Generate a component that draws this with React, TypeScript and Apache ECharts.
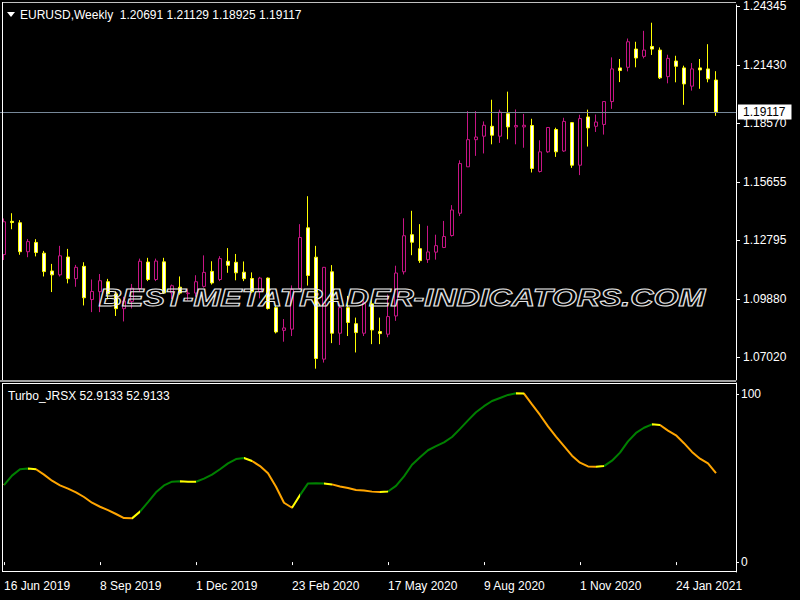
import React, { useEffect, useRef } from "react";
import * as echarts from "echarts";

const WEEKS = [
  "16 Jun 2019", "23 Jun 2019", "30 Jun 2019", "7 Jul 2019", "14 Jul 2019", "21 Jul 2019", "28 Jul 2019",
  "4 Aug 2019", "11 Aug 2019", "18 Aug 2019", "25 Aug 2019", "1 Sep 2019", "8 Sep 2019", "15 Sep 2019",
  "22 Sep 2019", "29 Sep 2019", "6 Oct 2019", "13 Oct 2019", "20 Oct 2019", "27 Oct 2019", "3 Nov 2019",
  "10 Nov 2019", "17 Nov 2019", "24 Nov 2019", "1 Dec 2019", "8 Dec 2019", "15 Dec 2019", "22 Dec 2019",
  "29 Dec 2019", "5 Jan 2020", "12 Jan 2020", "19 Jan 2020", "26 Jan 2020", "2 Feb 2020", "9 Feb 2020",
  "16 Feb 2020", "23 Feb 2020", "1 Mar 2020", "8 Mar 2020", "15 Mar 2020", "22 Mar 2020", "29 Mar 2020",
  "5 Apr 2020", "12 Apr 2020", "19 Apr 2020", "26 Apr 2020", "3 May 2020", "10 May 2020", "17 May 2020",
  "24 May 2020", "31 May 2020", "7 Jun 2020", "14 Jun 2020", "21 Jun 2020", "28 Jun 2020", "5 Jul 2020",
  "12 Jul 2020", "19 Jul 2020", "26 Jul 2020", "2 Aug 2020", "9 Aug 2020", "16 Aug 2020", "23 Aug 2020",
  "30 Aug 2020", "6 Sep 2020", "13 Sep 2020", "20 Sep 2020", "27 Sep 2020", "4 Oct 2020", "11 Oct 2020",
  "18 Oct 2020", "25 Oct 2020", "1 Nov 2020", "8 Nov 2020", "15 Nov 2020", "22 Nov 2020", "29 Nov 2020",
  "6 Dec 2020", "13 Dec 2020", "20 Dec 2020", "27 Dec 2020", "3 Jan 2021", "10 Jan 2021", "17 Jan 2021",
  "24 Jan 2021", "31 Jan 2021", "7 Feb 2021", "14 Feb 2021", "21 Feb 2021", "28 Feb 2021",
];
const EMPTY_SLOTS = [" ", "  "];

const OPEN = [
  1.1208, 1.1372, 1.1365, 1.1222, 1.1268, 1.1215, 1.1127, 1.1108, 1.1196, 1.1089,
  1.1150, 1.0986, 1.1025, 1.1074, 1.1014, 1.0941, 1.0977, 1.1040, 1.1171, 1.1085,
  1.1172, 1.1019, 1.1047, 1.1015, 1.1018, 1.1051, 1.1125, 1.1085, 1.1175, 1.1170,
  1.1121, 1.1090, 1.1025, 1.1092, 1.0946, 1.0834, 1.0840, 1.1041, 1.1340, 1.1195,
  1.0692, 1.1123, 1.0820, 1.0946, 1.0867, 1.0820, 1.0965, 1.0828, 1.0815, 1.0905,
  1.1123, 1.1306, 1.1237, 1.1183, 1.1220, 1.1243, 1.1302, 1.1412, 1.1641, 1.1775,
  1.1792, 1.1841, 1.1792, 1.1903, 1.1838, 1.1838, 1.1845, 1.1618, 1.1715, 1.1825,
  1.1719, 1.1859, 1.1649, 1.1887, 1.1841, 1.1850, 1.1963, 1.2129, 1.2132, 1.2222,
  1.2186, 1.2235, 1.2217, 1.2086, 1.2163, 1.2129, 1.2039, 1.2129, 1.2124, 1.20691,
];
const HIGH = [
  1.1386, 1.1412, 1.1378, 1.1285, 1.1284, 1.1226, 1.1162, 1.1251, 1.1236, 1.1157,
  1.1170, 1.1085, 1.1112, 1.1088, 1.1027, 1.1000, 1.1063, 1.1188, 1.1192, 1.1188,
  1.1192, 1.1060, 1.1100, 1.1036, 1.1106, 1.1204, 1.1175, 1.1200, 1.1240, 1.1211,
  1.1174, 1.1120, 1.1098, 1.1095, 1.0961, 1.0890, 1.1056, 1.1358, 1.1496, 1.1251,
  1.1147, 1.1156, 1.0966, 1.1004, 1.0897, 1.0982, 1.0987, 1.0897, 1.1011, 1.1153,
  1.1387, 1.1424, 1.1358, 1.1350, 1.1306, 1.1374, 1.1452, 1.1673, 1.1916, 1.1916,
  1.1865, 1.1972, 1.1923, 1.2012, 1.1924, 1.1902, 1.1878, 1.1772, 1.1835, 1.1834,
  1.1883, 1.1862, 1.1898, 1.1923, 1.1899, 1.1965, 1.2181, 1.2173, 1.2274, 1.2258,
  1.2312, 1.2352, 1.2230, 1.2194, 1.2189, 1.2140, 1.2153, 1.2173, 1.2246, 1.21129,
];
const LOW = [
  1.1181, 1.1333, 1.1207, 1.1195, 1.1199, 1.1100, 1.1023, 1.1100, 1.1066, 1.1049,
  1.0957, 1.0924, 1.0924, 1.0987, 1.0905, 1.0878, 1.0942, 1.1025, 1.1077, 1.1077,
  1.1014, 1.0989, 1.1010, 1.0981, 1.1000, 1.1045, 1.1060, 1.1077, 1.1118, 1.1081,
  1.1077, 1.1019, 1.0992, 1.0937, 1.0819, 1.0778, 1.0806, 1.1036, 1.1055, 1.0645,
  1.0675, 1.0771, 1.0762, 1.0806, 1.0725, 1.0806, 1.0766, 1.0766, 1.0800, 1.0881,
  1.1110, 1.1205, 1.1167, 1.1167, 1.1183, 1.1240, 1.1297, 1.1398, 1.1641, 1.1695,
  1.1707, 1.1752, 1.1759, 1.1777, 1.1752, 1.1735, 1.1613, 1.1613, 1.1710, 1.1690,
  1.1715, 1.1636, 1.1600, 1.1741, 1.1813, 1.1800, 1.1927, 1.2059, 1.2112, 1.2132,
  1.2176, 1.2193, 1.2074, 1.2053, 1.2058, 1.1947, 1.2017, 1.2026, 1.2058, 1.18925,
];
const CLOSE = [
  1.1370, 1.1366, 1.1222, 1.1272, 1.1218, 1.1124, 1.1108, 1.1202, 1.1089, 1.1145,
  1.0995, 1.1026, 1.1079, 1.1014, 1.0941, 1.0979, 1.1042, 1.1175, 1.1085, 1.1176,
  1.1019, 1.1054, 1.1018, 1.1018, 1.1074, 1.1120, 1.1068, 1.1188, 1.1155, 1.1118,
  1.1089, 1.1024, 1.1092, 1.0942, 1.0826, 1.0846, 1.1036, 1.1292, 1.1105, 1.0695,
  1.1145, 1.0820, 1.0946, 1.0873, 1.0823, 1.0970, 1.0836, 1.0818, 1.0902, 1.1117,
  1.1301, 1.1269, 1.1178, 1.1221, 1.1252, 1.1297, 1.1428, 1.1657, 1.1775, 1.1788,
  1.1846, 1.1797, 1.1911, 1.1838, 1.1845, 1.1846, 1.1633, 1.1715, 1.1835, 1.1715,
  1.1865, 1.1649, 1.1879, 1.1833, 1.1862, 1.1963, 1.2124, 1.2116, 1.2258, 1.2178,
  1.2217, 1.2222, 1.2080, 1.2176, 1.2137, 1.2050, 1.2124, 1.2119, 1.2075, 1.19117,
];

const JRSX = [
  45.8, 51.4, 55.2, 55.6, 55.2, 52.0, 48.4, 45.6, 43.7, 41.5,
  38.7, 35.3, 32.9, 30.9, 28.6, 26.2, 26.0, 30.0, 35.7, 41.5,
  45.6, 47.8, 48.0, 47.8, 47.8, 49.6, 52.0, 55.2, 58.7, 61.3,
  61.9, 60.1, 57.1, 52.8, 44.8, 35.3, 32.3, 39.8, 46.8, 46.9,
  46.8, 46.2, 45.0, 44.0, 42.9, 42.5, 41.9, 41.7, 42.0, 45.3,
  51.0, 57.9, 62.3, 66.5, 68.9, 71.2, 74.4, 79.2, 84.3, 89.1,
  92.7, 95.8, 97.6, 99.4, 100.4, 100.2, 93.8, 87.5, 80.7, 74.6,
  69.0, 63.3, 59.1, 56.9, 56.7, 57.1, 60.3, 65.1, 71.8, 76.8,
  79.9, 81.9, 81.5, 78.2, 75.4, 70.7, 65.5, 61.5, 58.7, 52.9133,
];
// colour state of the segment ending at each bar: G = rising, O = falling, Y = turning
const JRSX_STATE = (
  "GGGG" + "Y" + "OOOOOOOOOOOO" + "Y" + "GGGGG" + "YY" + "GGGGGG" + "Y" + "OOOOO" + "Y" +
  "GGG" + "Y" + "OOOOOO" + "Y" + "GGGGGGGGGGGGGGGG" + "Y" + "OOOOOOOOO" + "Y" + "GGGGGG" + "Y" + "OOOOOOO"
).split("");

const PRICE_TICKS = [1.0702, 1.0988, 1.12795, 1.15655, 1.1857, 1.2143, 1.24345];
const JRSX_TICKS = [0, 100];
const BID = 1.19117;
const SYMBOL = "EURUSD,Weekly";
const INDICATOR = "Turbo_JRSX";
const WATERMARK = "BEST-METATRADER-INDICATORS.COM";

const FONT = '"Liberation Sans", Arial, sans-serif';
const STATE_COLORS: Record<string, string> = { G: "#008000", O: "#FFA500", Y: "#FFFF00" };

export default function App() {
  const ref = useRef<HTMLDivElement>(null);

  useEffect(() => {
    const chart = echarts.init(ref.current!, null, { renderer: "svg" });
    const cats = [...WEEKS, ...EMPTY_SLOTS];
    const n = WEEKS.length;
    const candles = WEEKS.map((_, i) => [OPEN[i], CLOSE[i], LOW[i], HIGH[i]]);

    const pieces: any[] = [];
    for (let k = 1; k < n; k++) {
      const c = STATE_COLORS[JRSX_STATE[k]];
      const last = pieces[pieces.length - 1];
      if (last && last.color === c) last.lte = k;
      else pieces.push({ gt: k - 1, lte: k, color: c });
    }
    if (pieces.length) {
      delete pieces[0].gt;
      pieces[0].gte = 0;
    }

    const last = n - 1;
    const header = `${SYMBOL}  ${OPEN[last].toFixed(5)} ${HIGH[last].toFixed(5)} ${LOW[last].toFixed(5)} ${CLOSE[last].toFixed(5)}`;
    const subHeader = `${INDICATOR} ${JRSX[last].toFixed(4)} ${JRSX[last].toFixed(4)}`;
    const showIdx = (i: number) => i % 12 === 0 && i < n;

    chart.setOption({
      animation: false,
      backgroundColor: "#000",
      textStyle: { fontFamily: FONT },
      title: [
        { text: header, left: 20, top: 9, padding: 0, textStyle: { color: "#fff", fontSize: 12, fontWeight: "normal", fontFamily: FONT } },
        { text: subHeader, left: 8, top: 390, padding: 0, textStyle: { color: "#fff", fontSize: 12, fontWeight: "normal", fontFamily: FONT } },
      ],
      grid: [
        { left: 0, top: 3, width: 736, height: 377 },
        { left: 0, top: 383, width: 736, height: 189 },
      ],
      xAxis: [
        {
          type: "category", gridIndex: 0, data: cats, boundaryGap: true,
          axisLine: { show: false }, axisTick: { show: false }, axisLabel: { show: false }, splitLine: { show: false },
        },
        {
          type: "category", gridIndex: 1, data: cats, boundaryGap: true,
          axisLine: { show: false },
          axisTick: { show: true, alignWithLabel: true, interval: (i: number) => showIdx(i), length: 3, lineStyle: { color: "#fff" } },
          axisLabel: { show: true, interval: (i: number) => showIdx(i), align: "left", color: "#fff", fontSize: 12, fontFamily: FONT, margin: 8 },
          splitLine: { show: false },
        },
      ],
      yAxis: [
        {
          type: "value", gridIndex: 0, position: "right", min: 1.05891, max: 1.24393,
          splitLine: { show: false },
          axisLine: { show: true, lineStyle: { color: "#fff" } },
          axisTick: { show: true, length: 4, customValues: PRICE_TICKS, lineStyle: { color: "#fff" } },
          axisLabel: { show: true, customValues: PRICE_TICKS, color: "#fff", fontSize: 12, fontFamily: FONT, margin: 7, formatter: (v: number) => v.toFixed(5) },
        },
        {
          type: "value", gridIndex: 1, position: "right", min: -5.9, max: 106.5,
          splitLine: { show: false },
          axisLine: { show: true, lineStyle: { color: "#fff" } },
          axisTick: { show: true, length: 3, customValues: JRSX_TICKS, lineStyle: { color: "#fff" } },
          axisLabel: { show: true, customValues: JRSX_TICKS, color: "#fff", fontSize: 12, fontFamily: FONT, margin: 5, formatter: (v: number) => String(v) },
        },
      ],
      visualMap: {
        type: "piecewise", show: false, seriesIndex: 1, dimension: 0, pieces,
        outOfRange: { color: "#FFA500" },
      },
      series: [
        {
          type: "candlestick", xAxisIndex: 0, yAxisIndex: 0, data: candles, barWidth: 4,
          itemStyle: { color: "#000", color0: "#fff", borderColor: "#C71585", borderColor0: "#FFFF00", borderWidth: 1 },
          markLine: {
            silent: true, symbol: ["none", "none"], animation: false, precision: 5,
            data: [{ yAxis: BID }],
            lineStyle: { color: "#778899", width: 1, type: "solid" },
            label: {
              show: true, position: "end", formatter: BID.toFixed(5), color: "#000", backgroundColor: "#fff",
              padding: [2, 6, 1, 5], fontSize: 12, fontFamily: FONT, distance: 2,
            },
          },
        },
        {
          type: "line", xAxisIndex: 1, yAxisIndex: 1, data: JRSX, showSymbol: false, symbol: "none",
          lineStyle: { width: 2 },
        },
      ],
      graphic: [
        { type: "polygon", z: 100, shape: { points: [[7, 12], [15, 12], [11, 17]] }, style: { fill: "#fff" } },
        { type: "line", z: 100, shape: { x1: 2, y1: 2.5, x2: 736, y2: 2.5 }, style: { stroke: "#c0c0c0", lineWidth: 1 } },
        { type: "line", z: 100, shape: { x1: 2.5, y1: 2, x2: 2.5, y2: 380 }, style: { stroke: "#fff", lineWidth: 1 } },
        { type: "rect", z: 100, shape: { x: 0, y: 380, width: 736, height: 2 }, style: { fill: "#a0a0a0" } },
        { type: "line", z: 100, shape: { x1: 2, y1: 383.5, x2: 736, y2: 383.5 }, style: { stroke: "#fff", lineWidth: 1 } },
        { type: "line", z: 100, shape: { x1: 2.5, y1: 383, x2: 2.5, y2: 572 }, style: { stroke: "#fff", lineWidth: 1 } },
        { type: "line", z: 100, shape: { x1: 2, y1: 571.5, x2: 737, y2: 571.5 }, style: { stroke: "#fff", lineWidth: 1 } },
        {
          type: "text", z: 120, x: 402, y: 298, scaleX: 1.34, scaleY: 1,
          style: {
            text: WATERMARK, font: `italic bold 24px ${FONT}`, fill: "rgba(0,0,0,0)", stroke: "#e6e6e6",
            lineWidth: 1, align: "center", verticalAlign: "middle",
          },
        },
      ],
    });
    return () => chart.dispose();
  }, []);

  return (
    <div
      ref={ref}
      style={{ position: "fixed", left: 0, top: 0, width: 800, height: 600, background: "#000" }}
    />
  );
}
